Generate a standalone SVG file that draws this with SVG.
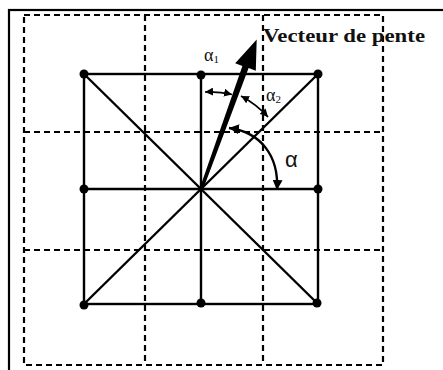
<svg xmlns="http://www.w3.org/2000/svg" width="443" height="370" viewBox="0 0 443 370">
<style>
.frame{fill:none;stroke:#000;stroke-width:2.2}
.dash{fill:none;stroke:#000;stroke-width:2.2;stroke-dasharray:6 4}
.solid{fill:none;stroke:#000;stroke-width:2.4}
.arc{fill:none;stroke:#000;stroke-width:1.7}
.dot{fill:#000}
.lbl{font-family:"Liberation Serif",serif;fill:#111}
</style>
<defs>
<marker id="ah" markerUnits="userSpaceOnUse" markerWidth="9" markerHeight="8" refX="8" refY="4" orient="auto-start-reverse">
<path d="M0,0 L8,4 L0,8 Z" fill="#000"/>
</marker>
<marker id="ahb" markerUnits="userSpaceOnUse" markerWidth="11" markerHeight="10" refX="10" refY="5" orient="auto-start-reverse">
<path d="M0,0 L10,5 L0,10 Z" fill="#000"/>
</marker>
</defs>
<rect class="frame" x="9" y="10" width="500" height="500"/>
<g id="dashed-grid">
<rect class="dash" x="24" y="15" width="359" height="350"/>
<line class="dash" x1="145" y1="15" x2="145" y2="365"/>
<line class="dash" x1="263" y1="15" x2="263" y2="365"/>
<line class="dash" x1="24" y1="132" x2="383" y2="132"/>
<line class="dash" x1="24" y1="250" x2="383" y2="250"/>
</g>
<g id="connectors">
<rect class="solid" x="84" y="74" width="234" height="230"/>
<line class="solid" x1="201" y1="75" x2="201" y2="304"/>
<line class="solid" x1="84" y1="189" x2="318" y2="189"/>
<line class="solid" x1="84" y1="74" x2="318" y2="304"/>
<line class="solid" x1="84" y1="304" x2="318" y2="74"/>
</g>
<g id="nodes">
<circle class="dot" cx="84" cy="74" r="4.5"/>
<circle class="dot" cx="201" cy="75" r="4.5"/>
<circle class="dot" cx="318" cy="74" r="4.5"/>
<circle class="dot" cx="84" cy="189" r="4.5"/>
<circle class="dot" cx="318" cy="189" r="4.5"/>
<circle class="dot" cx="84" cy="305" r="4.5"/>
<circle class="dot" cx="201" cy="303" r="4.5"/>
<circle class="dot" cx="317" cy="303" r="4.5"/>
</g>
<g id="slope-vector">
<polygon points="199.5,189 203,189.5 248.6,68 255.8,70.8 256.7,39.5 235.2,63.2 242.4,66" fill="#000"/>
<text class="lbl" x="263" y="42" font-size="19" font-weight="bold" textLength="162" lengthAdjust="spacingAndGlyphs">Vecteur de pente</text>
</g>
<g id="angles">
<path class="arc" d="M205,92 A98,98 0 0 1 232,94.5" marker-start="url(#ah)" marker-end="url(#ah)"/>
<path class="arc" d="M241,96 A100,100 0 0 1 268,117" marker-start="url(#ah)" marker-end="url(#ah)"/>
<path class="arc" style="stroke-width:2.4" d="M229,128 C260,132 279,155 277,190" marker-start="url(#ahb)" marker-end="url(#ahb)"/>
<text class="lbl" x="204" y="61" font-size="18">α<tspan font-size="11" dy="2">1</tspan></text>
<text class="lbl" x="266" y="101" font-size="18">α<tspan font-size="11" dy="2">2</tspan></text>
<text x="285" y="167" font-family="Liberation Sans,sans-serif" font-size="22" fill="#111">α</text>
</g>
</svg>
